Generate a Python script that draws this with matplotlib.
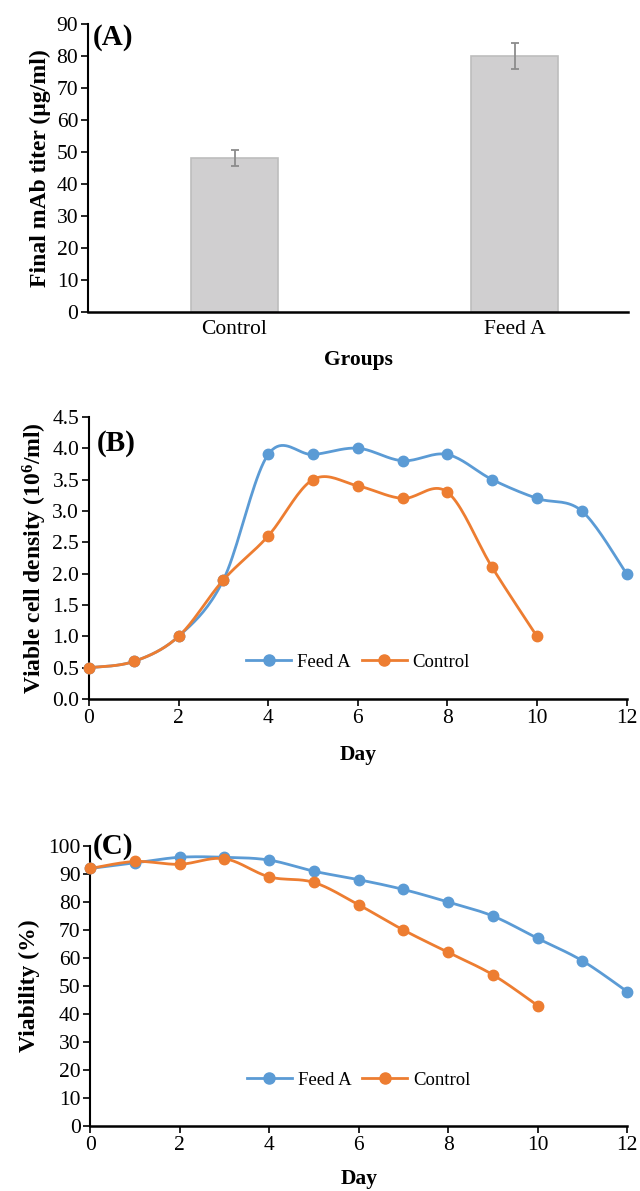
import numpy as np
import matplotlib
matplotlib.use("Agg")
import matplotlib.pyplot as plt
from matplotlib.lines import Line2D

plt.rcParams['font.family'] = ['Liberation Serif', 'DejaVu Serif']
plt.rcParams['mathtext.fontset'] = 'custom'
plt.rcParams['mathtext.rm'] = 'Liberation Serif:bold'
plt.rcParams['mathtext.bf'] = 'Liberation Serif:bold'
plt.rcParams['mathtext.it'] = 'Liberation Serif:bold'

# ---- data ----
groups = ["Control", "Feed A"]
titer = [48, 80]
titer_err = [2.5, 4.0]

days_feed = [0, 1, 2, 3, 4, 5, 6, 7, 8, 9, 10, 11, 12]
days_ctrl = [0, 1, 2, 3, 4, 5, 6, 7, 8, 9, 10]
vcd_feed = [0.5, 0.6, 1.0, 1.9, 3.9, 3.9, 4.0, 3.8, 3.9, 3.5, 3.2, 3.0, 2.0]
vcd_ctrl = [0.5, 0.6, 1.0, 1.9, 2.6, 3.5, 3.4, 3.2, 3.3, 2.1, 1.0]
via_feed = [92, 94, 96, 96, 95, 91, 88, 84.5, 80, 75, 67, 59, 48]
via_ctrl = [92, 94.5, 93.5, 95.5, 89, 87, 79, 70, 62, 54, 43]

BLUE = "#5B9BD5"
ORANGE = "#ED7D31"
TFS = 15.5   # tick labels
LFS = 17     # y labels
XFS = 15.5   # x labels


def smooth(x, y, n=20):
    """Catmull-Rom curve through the given points (Excel-like smoothed line)."""
    x = np.asarray(x, float)
    y = np.asarray(y, float)
    P = np.column_stack([x, y])
    P = np.vstack([P[0], P, P[-1]])
    out = []
    t = np.linspace(0, 1, n, endpoint=False)
    for i in range(1, len(P) - 2):
        p0, p1, p2, p3 = P[i - 1], P[i], P[i + 1], P[i + 2]
        c1 = p1 + (p2 - p0) / 6
        c2 = p2 - (p3 - p1) / 6
        seg = ((1 - t)[:, None] ** 3 * p1 + 3 * ((1 - t) ** 2 * t)[:, None] * c1
               + 3 * ((1 - t) * t ** 2)[:, None] * c2 + (t ** 3)[:, None] * p2)
        out.append(seg)
    out.append(P[-2][None, :])
    out = np.vstack(out)
    return out[:, 0], out[:, 1]


def style_axes(ax):
    ax.spines['top'].set_visible(False)
    ax.spines['right'].set_visible(False)
    ax.spines['left'].set_linewidth(1.5)
    ax.spines['bottom'].set_linewidth(1.8)
    ax.tick_params(axis='both', labelsize=TFS, direction='out', width=1.2, length=5, pad=2)


fig = plt.figure(figsize=(6.4, 11.91), dpi=100)

# ---- Panel A ----
axA = fig.add_axes([0.1375, 0.738, 0.844, 0.242])
xpos = np.arange(len(groups))
axA.bar(xpos, titer, width=0.31, color="#d0cfd0", edgecolor="#bdbdbd", linewidth=1.2, zorder=2)
axA.errorbar(xpos, titer, yerr=titer_err, fmt='none', ecolor="#8c8c8c", elinewidth=1.3,
             capsize=3, capthick=1.3, zorder=3)
axA.set_xlim(-0.523, 1.405)
axA.set_ylim(0, 90)
axA.set_yticks(np.arange(0, 91, 10))
axA.set_xticks(xpos)
axA.set_xticklabels(groups)
style_axes(axA)
axA.tick_params(axis='x', length=0, pad=6)
axA.set_xlabel("Groups", fontsize=XFS, fontweight='bold', labelpad=8)
axA.set_ylabel("Final mAb titer (µg/ml)", fontsize=LFS, fontweight='bold', labelpad=4)
axA.text(0.008, 1.0, "(A)", transform=axA.transAxes, fontsize=21, fontweight='bold',
         va='top', ha='left')

# ---- Panel B ----
axB = fig.add_axes([0.139, 0.413, 0.840, 0.237])
for d, v, c in [(days_feed, vcd_feed, BLUE), (days_ctrl, vcd_ctrl, ORANGE)]:
    sx, sy = smooth(d, v)
    axB.plot(sx, sy, color=c, lw=2, zorder=2, clip_on=False)
    axB.plot(d, v, 'o', color=c, ms=7.5, zorder=3, clip_on=False)
axB.set_xlim(0, 12)
axB.set_ylim(0, 4.5)
axB.set_xticks(np.arange(0, 13, 2))
axB.set_yticks(np.arange(0, 4.51, 0.5))
axB.set_yticklabels([f"{v:.1f}" for v in np.arange(0, 4.51, 0.5)])
style_axes(axB)
axB.set_xlabel("Day", fontsize=XFS, fontweight='bold', labelpad=12)
axB.set_ylabel(r"Viable cell density (10$^{6}$/ml)", fontsize=LFS, fontweight='bold', labelpad=2)
axB.text(0.015, 0.955, "(B)", transform=axB.transAxes, fontsize=21, fontweight='bold',
         va='top', ha='left')
handles = [Line2D([], [], color=BLUE, lw=2, marker='o', ms=8),
           Line2D([], [], color=ORANGE, lw=2, marker='o', ms=8)]
axB.legend(handles, ["Feed A", "Control"], loc='center', bbox_to_anchor=(0.5, 0.131),
           ncol=2, frameon=False, fontsize=13.5, handlelength=2.4, columnspacing=0.6,
           handletextpad=0.3)

# ---- Panel C ----
axC = fig.add_axes([0.141, 0.0546, 0.839, 0.235])
for d, v, c in [(days_feed, via_feed, BLUE), (days_ctrl, via_ctrl, ORANGE)]:
    sx, sy = smooth(d, v)
    axC.plot(sx, sy, color=c, lw=2, zorder=2, clip_on=False)
    axC.plot(d, v, 'o', color=c, ms=7.5, zorder=3, clip_on=False)
axC.set_xlim(0, 12)
axC.set_ylim(0, 100)
axC.set_xticks(np.arange(0, 13, 2))
axC.set_yticks(np.arange(0, 101, 10))
style_axes(axC)
axC.set_xlabel("Day", fontsize=XFS, fontweight='bold', labelpad=10)
axC.set_ylabel("Viability (%)", fontsize=LFS, fontweight='bold', labelpad=6)
axC.text(0.005, 1.0, "(C)", transform=axC.transAxes, fontsize=21, fontweight='bold',
         va='center', ha='left')
axC.legend(handles, ["Feed A", "Control"], loc='center', bbox_to_anchor=(0.5, 0.164),
           ncol=2, frameon=False, fontsize=13.5, handlelength=2.4, columnspacing=0.6,
           handletextpad=0.3)

fig.savefig("out.png", dpi=100)
